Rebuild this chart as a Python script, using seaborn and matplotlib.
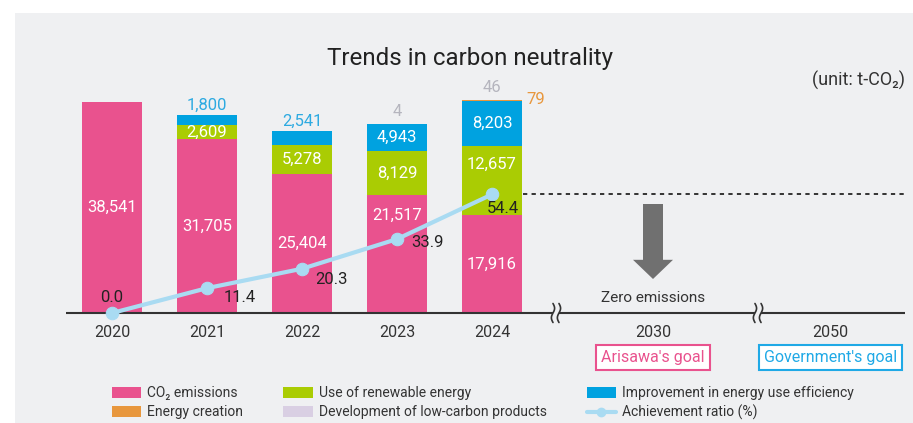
import matplotlib
matplotlib.use("Agg")
import matplotlib.pyplot as plt
import matplotlib.patches as mpatches
from matplotlib.lines import Line2D
import numpy as np
import seaborn as sns

sns.set_style("white")
plt.rcParams["font.family"] = ["Roboto", "DejaVu Sans"]

# ---- data -------------------------------------------------------------
years = ["2020", "2021", "2022", "2023", "2024"]
co2_emissions = [38541, 31705, 25404, 21517, 17916]
renewable_energy = [0, 2609, 5278, 8129, 12657]
efficiency = [0, 1800, 2541, 4943, 8203]
energy_creation = [0, 0, 0, 0, 79]
low_carbon = [0, 0, 0, 4, 46]
achievement_ratio = [0.0, 11.4, 20.3, 33.9, 54.4]
goal_years = ["2030", "2050"]
goal_labels = ["Arisawa's goal", "Government's goal"]

# ---- style ------------------------------------------------------------
PINK = "#E9528E"
GREEN = "#AACC03"
BLUE = "#00A2E0"
ORANGE = "#E8973D"
LAVENDER = "#D9CFE3"
LINE = "#A9DBF2"
DARK = "#333333"
PANEL = "#EFF0F2"

W, H = 913, 423
fig = plt.figure(figsize=(W / 100, H / 100), dpi=100)
fig.patch.set_facecolor("white")
fig.patches.append(mpatches.Rectangle((15 / W, 0), 1, 1 - 13 / H,
                                      transform=fig.transFigure,
                                      facecolor=PANEL, edgecolor="none",
                                      zorder=-10))

# axes geometry (pixels)
x_left_px, x_right_px, base_px, top_px = 66, 905, 313, 95
step_px, first_px = 95.0, 112.0
ax = fig.add_axes([x_left_px / W, (H - base_px) / H,
                   (x_right_px - x_left_px) / W, (base_px - top_px) / H])
ax.set_facecolor("none")
xmin = (x_left_px - first_px) / step_px
xmax = (x_right_px - first_px) / step_px
ymax = 39810
ax.set_xlim(xmin, xmax)
ax.set_ylim(0, ymax)
for s in ax.spines.values():
    s.set_visible(False)
ax.set_yticks([])

dx = 1 / step_px                  # data-x per pixel
dy = ymax / (base_px - top_px)    # data-y per pixel

pos = np.arange(len(years))
goal_pos = [(653 - first_px) / step_px, (830.5 - first_px) / step_px]

# ---- stacked bars -----------------------------------------------------
width = 0.63
layers = [(co2_emissions, PINK), (renewable_energy, GREEN), (efficiency, BLUE),
          (energy_creation, ORANGE), (low_carbon, LAVENDER)]
bottom = np.zeros(len(years))
seg_info = []
for vals, col in layers:
    vals = np.array(vals, dtype=float)
    ax.bar(pos, vals, width=width, bottom=bottom, color=col,
           edgecolor="none", zorder=2)
    seg_info.append((vals, bottom.copy()))
    bottom = bottom + vals
totals = bottom

lab_kw = dict(ha="center", va="center", fontsize=12, zorder=5)
# labels that are lifted (in pixels) to keep clear of the ratio line
lift_px = {(0, 3): 39, (1, 4): 16}
# labels inside the segments; thin efficiency segments get theirs on top
min_inside_px = [0, 12, 20]
for li in range(3):
    vals, bot = seg_info[li]
    for i, v in enumerate(vals):
        if v <= 0:
            continue
        if v / dy >= min_inside_px[li]:
            ax.text(pos[i], bot[i] + v / 2 + lift_px.get((li, i), 0) * dy,
                    f"{int(v):,}", color="white", **lab_kw)
        else:
            ax.text(pos[i], totals[i] + 10 * dy, f"{int(v):,}",
                    color="#2DAAE1", **lab_kw)
# small contributions on top
for i, v in enumerate(low_carbon):
    if v > 0:
        ax.text(pos[i], totals[i] + 12 * dy, f"{v:,}", color="#B5B5BE", **lab_kw)
for i, v in enumerate(energy_creation):
    if v > 0:
        ax.text(pos[i] + width / 2 + 4 * dx, totals[i], f"{v:,}",
                color=ORANGE, ha="left", va="center", fontsize=12, zorder=5)

# ---- baseline with axis breaks ---------------------------------------
breaks = [(4.642, 4.705), (6.768, 6.832)]
segs = [(xmin, breaks[0][0]), (breaks[0][1], breaks[1][0]), (breaks[1][1], xmax)]
for a, b in segs:
    ax.plot([a, b], [0, 0], color=DARK, lw=1.5, clip_on=False, zorder=3,
            solid_capstyle="butt")
t = np.linspace(-1, 1, 40)
for a, b in breaks:
    for xb in (a, b):
        ax.plot(xb + 1.6 * dx * np.sin(t * np.pi), t * 9.5 * dy,
                color=DARK, lw=1.2, clip_on=False, zorder=3)

ax.set_xticks(list(pos) + goal_pos, years + goal_years)
ax.tick_params(axis="x", length=0, pad=8.5, labelsize=11.5, labelcolor=DARK)

# goal boxes
goal_cols = [PINK, "#1FA9E6"]
for gx, txt, col in zip(goal_pos, goal_labels, goal_cols):
    ax.text(gx, -(357.5 - base_px) / (base_px - top_px), txt,
            transform=ax.get_xaxis_transform(), ha="center", va="center",
            fontsize=11.5, color=col, clip_on=False,
            bbox=dict(boxstyle="square,pad=0.33", facecolor="white",
                      edgecolor=col, lw=1.5))

# ---- achievement ratio line -------------------------------------------
ax2 = ax.twinx()
ax2.set_ylim(0, 100)
ax2.set_yticks([])
for s in ax2.spines.values():
    s.set_visible(False)
sns.lineplot(x=pos, y=achievement_ratio, ax=ax2, color=LINE, lw=3,
             marker="o", markersize=9, markeredgecolor=LINE, legend=False,
             clip_on=False, zorder=6)
offsets = [(0, 16), (33, -9), (29, -11), (31, -3), (11, -14)]
for i, (v, (ox, oy)) in enumerate(zip(achievement_ratio, offsets)):
    ax2.annotate(f"{v:.1f}", (pos[i], v), xytext=(ox * 0.72, oy * 0.72),
                 textcoords="offset points", ha="center", va="center",
                 fontsize=12, color="#222222", zorder=7, annotation_clip=False)

# dotted reference level and the target arrow
ax2.plot([4.33, xmax], [achievement_ratio[-1]] * 2, color=DARK, lw=1.4,
         ls=(0, (2.2, 2.2)), clip_on=False)
ax2.add_patch(mpatches.FancyArrow(goal_pos[0], 50.0, 0, -34.4,
                                  width=20 * dx, head_width=40 * dx,
                                  head_length=8.8, length_includes_head=True,
                                  color="#707070", lw=0))
ax2.text(goal_pos[0], 6.9, "Zero emissions", ha="center", va="center",
         fontsize=11, color=DARK)

# ---- titles -----------------------------------------------------------
fig.text(470 / W, 1 - 58 / H, "Trends in carbon neutrality", ha="center",
         va="center", fontsize=17.4, color="#222222")
fig.text(905 / W, 1 - 80 / H, "(unit: t-CO₂)", ha="right", va="center",
         fontsize=13, color=DARK)

# ---- legend -----------------------------------------------------------
def patch(c):
    return mpatches.Patch(facecolor=c, edgecolor="none")

handles = [patch(PINK), patch(ORANGE), patch(GREEN), patch(LAVENDER),
           patch(BLUE),
           Line2D([], [], color=LINE, lw=3, marker="o", markersize=6)]
labels = ["CO₂ emissions", "Energy creation", "Use of renewable energy",
          "Development of low-carbon products",
          "Improvement in energy use efficiency", "Achievement ratio (%)"]
fig.legend(handles, labels, ncol=3, loc="upper left",
           bbox_to_anchor=(112 / W, 1 - 386 / H), frameon=False,
           fontsize=10, handlelength=2.1, handleheight=0.85,
           handletextpad=0.43, columnspacing=2.9, labelspacing=0.35,
           borderpad=0, borderaxespad=0, labelcolor=DARK)

fig.savefig("out.png", dpi=100, facecolor="white")
